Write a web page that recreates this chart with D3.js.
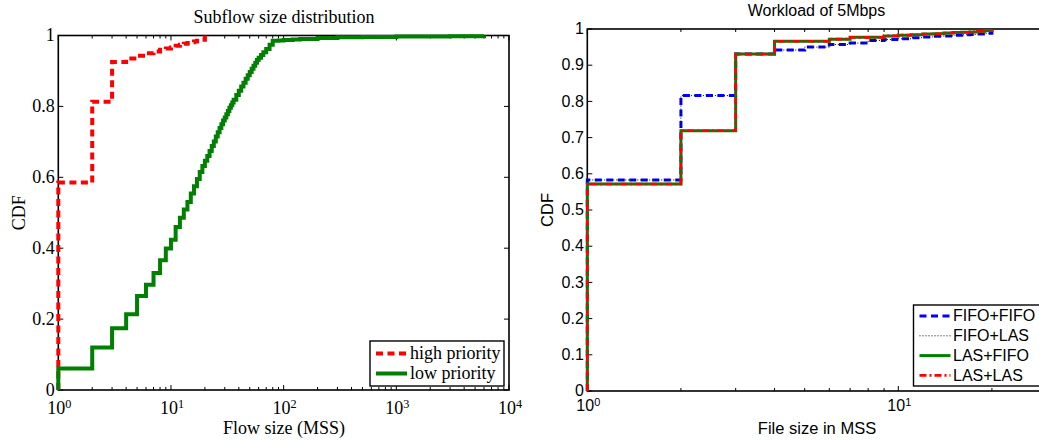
<!DOCTYPE html>
<html lang="en">
<head>
<meta charset="UTF-8">
<title>CDF</title>
<script src="https://d3js.org/d3.v7.min.js"></script>
<style>
body { margin: 0; background: #fff; }
</style>
</head>
<body>
<script>
// ---- left panel: subflow sizes (MSS) and their CDF values ----
var highSize = [1, 2, 3, 4, 5, 6, 7, 8, 9, 10, 11, 12, 13, 14, 15, 16, 17, 18, 19, 20];
var highCdf  = [0.585, 0.813, 0.925, 0.935, 0.943, 0.95, 0.955, 0.96, 0.963, 0.966,
                0.971, 0.974, 0.977, 0.979, 0.981, 0.983, 0.985, 0.987, 0.988, 1.0];

var lowSize = [1, 2, 3, 4, 5, 6, 7, 8, 9, 10, 11, 12, 13, 14, 15, 16, 17, 18, 19, 20,
               21, 22, 23, 24, 25, 26, 27, 28, 29, 30, 31, 32, 33, 34, 35, 36, 38, 40,
               42, 44, 46, 48, 50, 52, 54, 56, 58, 60, 63, 66, 70, 75, 80,
               90, 100, 120, 140, 200, 300, 500, 1000, 3000, 6000];
var lowCdf  = [0.061, 0.12, 0.174, 0.214, 0.265, 0.297, 0.33, 0.366, 0.399, 0.424,
               0.46, 0.486, 0.509, 0.53, 0.554, 0.575, 0.595, 0.615, 0.632, 0.647,
               0.660, 0.674, 0.688, 0.701, 0.715, 0.727, 0.739, 0.750, 0.760, 0.769,
               0.778, 0.787, 0.796, 0.803, 0.811, 0.819, 0.832, 0.844,
               0.856, 0.867, 0.878, 0.888, 0.897, 0.906, 0.915, 0.923, 0.931, 0.937,
               0.945, 0.953, 0.962, 0.974, 0.985,
               0.986, 0.987, 0.989, 0.990, 0.993, 0.995, 0.996, 0.997, 0.998, 1.0];

var leftNames = ["high priority", "low priority"];
var leftXTicks = [1, 10, 100, 1000, 10000];
var leftYTicks = [0, 0.2, 0.4, 0.6, 0.8, 1];
var leftYLabels = ["0", "0.2", "0.4", "0.6", "0.8", "1"];

// ---- right panel: file sizes (MSS) and CDF per scheduler pair ----
var fileSize = [1, 2, 3, 4, 5, 6, 7, 8, 9, 10, 11, 12, 13, 14, 15, 16, 17, 18, 19, 20];
var fifoFifo = [0.583, 0.816, 0.931, 0.942, 0.950, 0.957, 0.961, 0.968, 0.971, 0.973,
                0.976, 0.978, 0.980, 0.981, 0.983, 0.984, 0.985, 0.986, 0.988, 1.0];
var fifoLas  = [0.583, 0.816, 0.931, 0.942, 0.950, 0.957, 0.961, 0.968, 0.971, 0.973,
                0.976, 0.978, 0.980, 0.981, 0.983, 0.984, 0.985, 0.986, 0.988, 1.0];
var lasFifo  = [0.572, 0.719, 0.931, 0.966, 0.966, 0.972, 0.977, 0.977, 0.981, 0.983,
                0.984, 0.986, 0.987, 0.989, 0.990, 0.991, 0.992, 0.994, 0.996, 1.0];
var lasLas   = [0.572, 0.719, 0.931, 0.966, 0.966, 0.972, 0.977, 0.977, 0.981, 0.983,
                0.984, 0.986, 0.987, 0.989, 0.990, 0.991, 0.992, 0.994, 0.996, 1.0];

var rightNames = ["FIFO+FIFO", "FIFO+LAS", "LAS+FIFO", "LAS+LAS"];
var rightXTicks = [1, 10];
var rightYTicks = [0, 0.1, 0.2, 0.3, 0.4, 0.5, 0.6, 0.7, 0.8, 0.9, 1];
var rightYLabels = ["0", "0.1", "0.2", "0.3", "0.4", "0.5", "0.6", "0.7", "0.8", "0.9", "1"];

var svg = d3.select("body").append("svg")
  .attr("width", 1039)
  .attr("height", 440);

function pts(xs, ys) {
  // start the stair at (x0, 0) like cdfplot does
  var p = [[xs[0], 0]];
  xs.forEach(function(x, i) { p.push([x, ys[i]]); });
  return p;
}

function minorTicks(lo, hi) {
  var out = [];
  for (var d = lo; d < hi; d *= 10)
    for (var k = 2; k <= 9; k++) if (d * k <= hi) out.push(d * k);
  return out;
}

function drawPanel(o) {
  var x = d3.scaleLog().domain(o.xDomain).range([o.left, o.right]);
  var y = d3.scaleLinear().domain([0, 1]).range([o.bottom, o.top]);
  var g = svg.append("g");

  // ticks (inside, on all sides)
  var tk = g.append("g").attr("stroke", "#000").attr("stroke-width", 1);
  o.yTicks.forEach(function(v) {
    tk.append("line").attr("x1", o.left).attr("x2", o.left + 5).attr("y1", y(v)).attr("y2", y(v));
    tk.append("line").attr("x1", o.right).attr("x2", o.right - 5).attr("y1", y(v)).attr("y2", y(v));
  });
  o.xTicks.forEach(function(v) {
    tk.append("line").attr("x1", x(v)).attr("x2", x(v)).attr("y1", o.bottom).attr("y2", o.bottom - 5);
    tk.append("line").attr("x1", x(v)).attr("x2", x(v)).attr("y1", o.top).attr("y2", o.top + 5);
  });
  o.minor.forEach(function(v) {
    tk.append("line").attr("x1", x(v)).attr("x2", x(v)).attr("y1", o.bottom).attr("y2", o.bottom - 3);
    tk.append("line").attr("x1", x(v)).attr("x2", x(v)).attr("y1", o.top).attr("y2", o.top + 3);
  });

  g.append("rect")
    .attr("x", o.left).attr("y", o.top)
    .attr("width", o.right - o.left).attr("height", o.bottom - o.top)
    .attr("fill", "none").attr("stroke", "#000").attr("stroke-width", 1.6);

  // tick labels
  var lab = g.append("g").attr("font-family", o.font).attr("fill", "#000");
  o.yTicks.forEach(function(v, i) {
    lab.append("text").attr("x", o.left - 3.5).attr("y", y(v)).attr("dy", "0.32em")
      .attr("text-anchor", "end").attr("font-size", o.tickSize).text(o.yLabels[i]);
  });
  o.xTicks.forEach(function(v) {
    var t = lab.append("text").attr("x", x(v) + 1).attr("y", o.xTickY)
      .attr("text-anchor", "middle").attr("font-size", o.tickSize);
    t.append("tspan").text("10");
    t.append("tspan").attr("dy", "-0.5em").attr("font-size", "0.68em")
      .text(Math.round(Math.log10(v)));
  });

  // title & axis labels
  g.append("text").attr("x", o.titleX).attr("y", o.titleY)
    .attr("text-anchor", "middle").attr("font-family", o.font).attr("font-size", o.titleSize)
    .text(o.title);
  g.append("text").attr("x", o.xLabelX).attr("y", o.xLabelY)
    .attr("text-anchor", "middle").attr("font-family", o.font).attr("font-size", o.labelSize)
    .text(o.xLabel);
  g.append("text")
    .attr("transform", "translate(" + o.yLabelX + "," + ((o.top + o.bottom) / 2) + ") rotate(-90)")
    .attr("text-anchor", "middle").attr("dy", "0.35em")
    .attr("font-family", o.font).attr("font-size", o.labelSize).text("CDF");

  // stair lines
  var line = d3.line()
    .x(function(d) { return x(d[0]); })
    .y(function(d) { return y(d[1]); })
    .curve(d3.curveStepAfter);
  o.series.forEach(function(s) {
    g.append("path").datum(pts(s.xs, s.ys))
      .attr("d", line).attr("fill", "none")
      .attr("stroke", s.color).attr("stroke-width", s.width)
      .attr("stroke-dasharray", s.dash);
  });

  // legend
  var L = o.legend;
  g.append("rect").attr("x", L.x).attr("y", L.y).attr("width", L.w).attr("height", L.h)
    .attr("fill", "#fff").attr("stroke", "#000").attr("stroke-width", 1.4);
  o.series.forEach(function(s, i) {
    var yy = L.y + L.first + i * L.step;
    g.append("line").attr("x1", L.x + 6).attr("x2", L.x + 37).attr("y1", yy).attr("y2", yy)
      .attr("stroke", s.color).attr("stroke-width", s.width).attr("stroke-dasharray", s.dash);
    g.append("text").attr("x", L.x + L.textDx).attr("y", yy).attr("dy", "0.33em")
      .attr("font-family", o.font).attr("font-size", L.size).text(s.name);
  });
}

drawPanel({
  xDomain: [1, 10000], left: 58.3, right: 509, top: 35.5, bottom: 390,
  xTicks: leftXTicks, minor: minorTicks(1, 10000),
  yTicks: leftYTicks, yLabels: leftYLabels,
  font: "'Liberation Serif', 'Times New Roman', serif",
  tickSize: 18, titleSize: 18, labelSize: 18,
  title: "Subflow size distribution", titleX: 284, titleY: 22.5,
  xLabel: "Flow size (MSS)", xLabelX: 284, xLabelY: 433.5,
  yLabelX: 18.5, xTickY: 414,
  series: [
    { name: leftNames[0], xs: highSize, ys: highCdf, color: "#ff0000", width: 4, dash: "7,4.5" },
    { name: leftNames[1], xs: lowSize, ys: lowCdf, color: "#008000", width: 4, dash: null }
  ],
  legend: { x: 370, y: 341, w: 134, h: 45, first: 12.5, step: 20, textDx: 40, size: 18 }
});

drawPanel({
  xDomain: [1, 30], left: 587.3, right: 587.3 + 311 * Math.log10(30), top: 29, bottom: 391,
  xTicks: rightXTicks, minor: [2, 3, 4, 5, 6, 7, 8, 9, 20, 30],
  yTicks: rightYTicks, yLabels: rightYLabels,
  font: "'Liberation Sans', Arial, Helvetica, sans-serif",
  tickSize: 16, titleSize: 16, labelSize: 16.5,
  title: "Workload of 5Mbps", titleX: 816.5, titleY: 16,
  xLabel: "File size in MSS", xLabelX: 817, xLabelY: 433.5,
  yLabelX: 547, xTickY: 411,
  series: [
    { name: rightNames[0], xs: fileSize, ys: fifoFifo, color: "#0000ff", width: 3, dash: "7,4.5" },
    { name: rightNames[1], xs: fileSize, ys: fifoLas, color: "#000000", width: 1, dash: "1,2" },
    { name: rightNames[2], xs: fileSize, ys: lasFifo, color: "#008000", width: 3, dash: null },
    { name: rightNames[3], xs: fileSize, ys: lasLas, color: "#ff0000", width: 2.6, dash: "7,3,2,3" }
  ],
  legend: { x: 913.5, y: 305, w: 135, h: 81, first: 11, step: 19.8, textDx: 39.5, size: 16 }
});
</script>
</body>
</html>
